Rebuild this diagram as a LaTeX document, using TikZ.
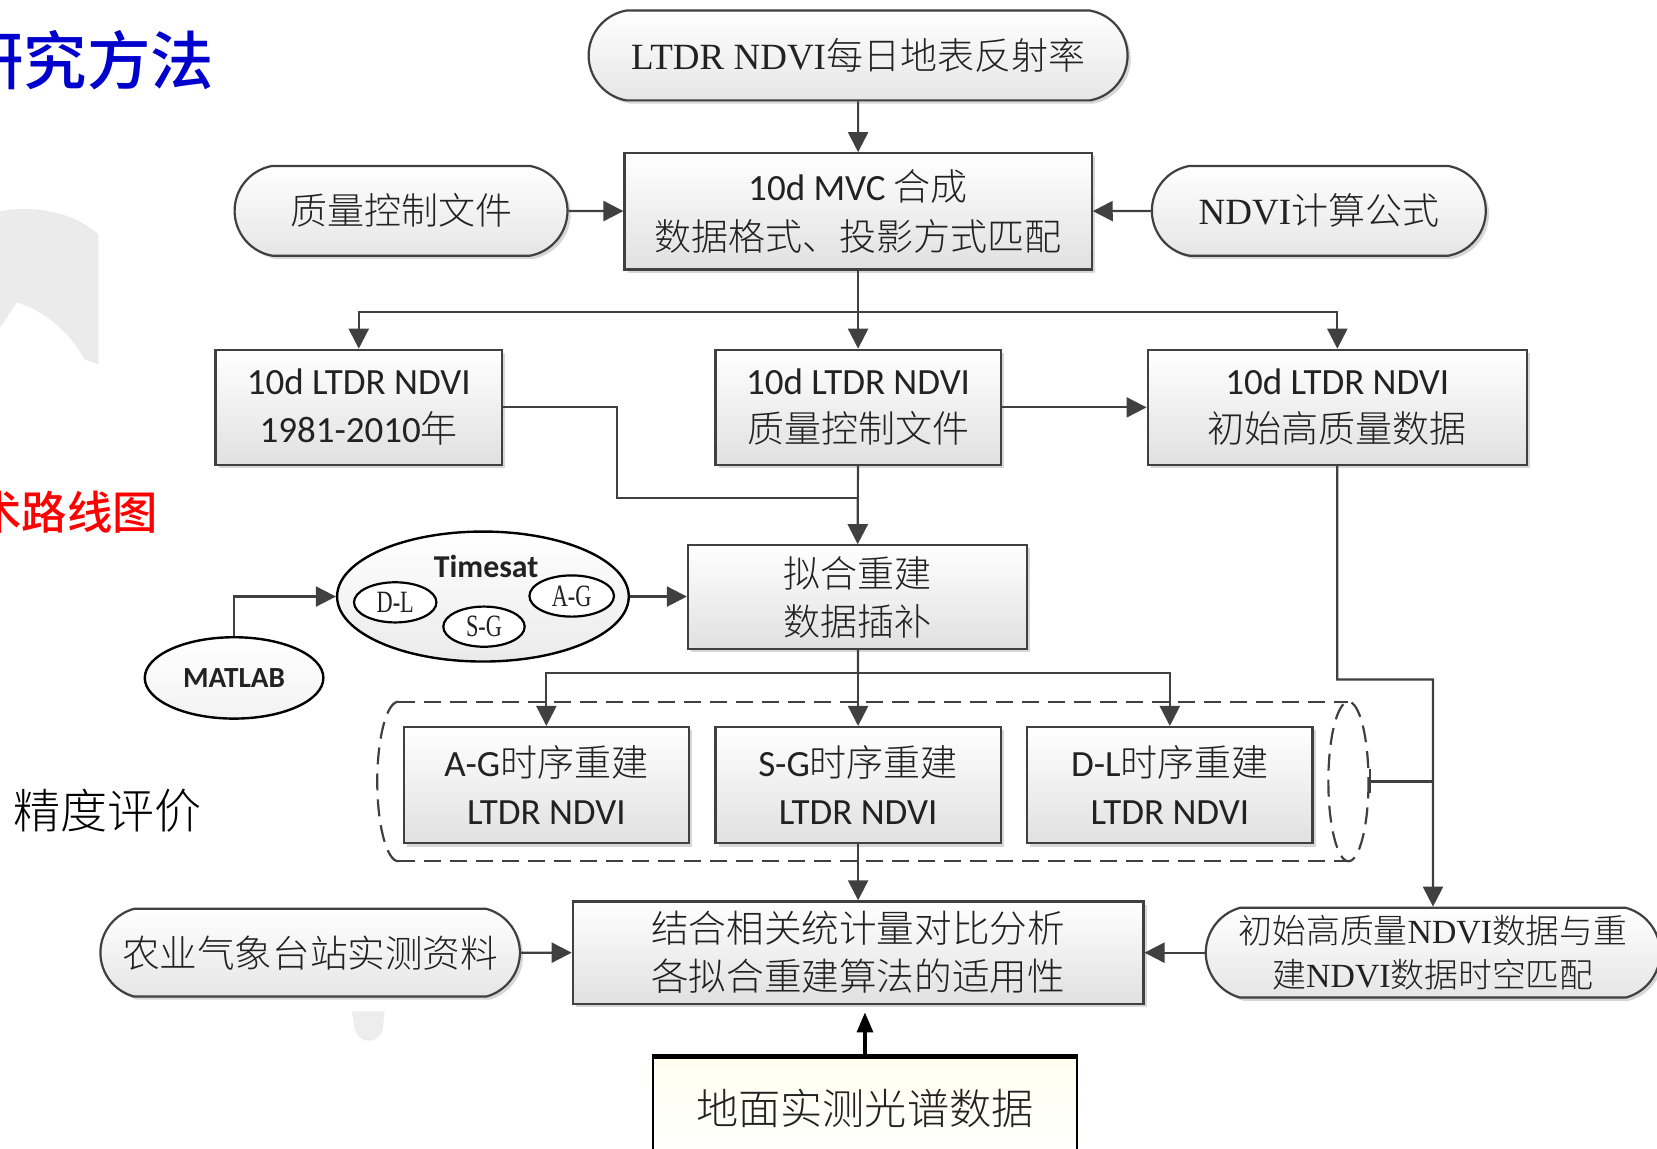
\documentclass[tikz,border=0pt]{standalone}
\usepackage{fontspec}
\usepackage{graphicx}
\setmainfont{Liberation Serif}
\newfontfamily\carl{Carlito}
\newfontfamily\cjk{Noto Sans CJK SC Light}
\newfontfamily\cjkb{Noto Sans CJK SC Medium}
\newfontfamily\tms{Liberation Serif}
\usetikzlibrary{arrows.meta,shapes.misc,shapes.geometric,shadows,calc}
\definecolor{bdr}{HTML}{404040}
\definecolor{txt}{HTML}{222222}
\definecolor{ttlblue}{HTML}{0000CC}
\newcommand\fz[2]{\fontsize{#1pt}{#2pt}\selectfont}
\tikzset{
 shd/.style={drop shadow={shadow xshift=1.6pt, shadow yshift=-1.6pt, opacity=0.22, fill=black!70}},
 box/.style={rectangle, draw=bdr, line width=1.1pt, top color=white, bottom color=black!12, shd, inner sep=0pt, align=center, text=txt, font=\fz{18.5}{24}},
 term/.style={rounded rectangle, rounded rectangle arc length=160, draw=bdr, line width=1.1pt, top color=white, bottom color=black!10, shd, inner sep=0pt, align=center, text=txt, font=\fz{18.5}{24}},
 dim/.style 2 args={minimum width=#1*0.5284pt, minimum height=#2*0.5284pt},
 ln/.style={draw=bdr, line width=1.1pt},
 arr/.style={ln, -{Triangle[length=10pt,width=10pt]}},
 ell/.style={ellipse, draw=black, line width=1.2pt, inner sep=0pt, text=txt},
 dsh/.style={draw=bdr, line width=1.1pt, dash pattern=on 8.5pt off 4.5pt},
 smallell/.style={ell, line width=1.1pt, fill=white, font=\tms\fz{15.5}{17}},
}
\begin{document}
\begin{tikzpicture}[x=0.5284pt,y=-0.5284pt]
\clip (0,0) rectangle (1568,1087);
\fill[white] (0,0) rectangle (1568,1087);
% faint background marks
\fill[black!8] (0,200) .. controls (30,194) and (70,200) .. (93,222) -- (93,345) -- (80,340) .. controls (68,318) and (50,302) .. (31,292) -- (16,286) -- (0,310) -- cycle;
\fill[black!7] (333,957) -- (364,957) -- (362,975) .. controls (358,988) and (340,988) .. (336,975) -- cycle;
% side titles
\node[anchor=west, inner sep=0pt, text=ttlblue, font=\cjkb\fz{31.7}{34}] (ttl) at (-38,57) {研究方法};
\node[anchor=east, inner sep=0pt, text=red, font=\cjkb\fz{22.7}{25}] (ttl2) at (150,485) {技术路线图};
\node[anchor=west, inner sep=0pt, text=black, font=\cjk\fz{23.5}{25}] (acc) at (12,767) {精度评价};
% dashed cylinder group
\draw[dsh] (377,664) -- (1276,664);
\draw[dsh] (377,815) -- (1276,815);
\draw[dsh] (377,664) .. controls (366,664) and (357,698) .. (357,739.5) .. controls (357,781) and (366,815) .. (377,815);
\draw[dsh] (1276,739.5) ellipse [x radius=19, y radius=75.5];
\coordinate (cylr) at (1295,739.5);
% nodes
\node[term, dim={510}{85}] (top) at (812,52.5) {\tms LTDR NDVI\cjk 每日地表反射率};
\node[box, dim={442}{110}, font=\fz{18.5}{25}] (mvc) at (812,200) {\carl 10d MVC \cjk 合成\\\cjk 数据格式、投影方式匹配};
\node[term, dim={315}{85}] (qc) at (379.5,199.5) {\cjk 质量控制文件};
\node[term, dim={316}{85}] (nd) at (1248,199.5) {\tms NDVI\cjk 计算公式};
\node[box, dim={271}{109}] (b5) at (339.5,385.5) {\carl 10d LTDR NDVI\\\carl 1981-2010\cjk 年};
\node[box, dim={270}{109}] (b6) at (812,385.5) {\carl 10d LTDR NDVI\\\cjk 质量控制文件};
\node[box, dim={359}{109}] (b7) at (1265.5,385.5) {\carl 10d LTDR NDVI\\\cjk 初始高质量数据};
\node[box, dim={321}{98}] (b8) at (811.5,565) {\cjk 拟合重建\\\cjk 数据插补};
\node[ell, dim={276}{123}, top color=white, bottom color=black!8] (ts) at (457,564.5) {};
\node[inner sep=0pt, text=txt, font=\carl\bfseries\fz{15.9}{18}] (tsl) at (460,536) {Timesat};
\node[smallell, dim={78}{38}] (dl) at (374,570) {\scalebox{0.72}[1]{D-L}};
\node[smallell, dim={77}{38}] (sg) at (458,593) {\scalebox{0.72}[1]{S-G}};
\node[smallell, dim={80}{39}] (ag) at (541,564) {\scalebox{0.72}[1]{A-G}};
\node[ell, dim={169}{77}, top color=white, bottom color=black!5, font=\carl\bfseries\fz{14.6}{16}] (mat) at (221.5,641.5) {MATLAB};
\node[box, dim={270}{110}] (agb) at (517,743) {\carl A-G\cjk 时序重建\\\carl LTDR NDVI};
\node[box, dim={270}{110}] (sgb) at (812,743) {\carl S-G\cjk 时序重建\\\carl LTDR NDVI};
\node[box, dim={270}{110}] (dlb) at (1107,743) {\carl D-L\cjk 时序重建\\\carl LTDR NDVI};
\node[box, dim={540}{97}, font=\fz{18.8}{24}] (res) at (812,901.5) {\cjk 结合相关统计量对比分析\\\cjk 各拟合重建算法的适用性};
\node[term, rounded rectangle arc length=150, dim={397}{83}, font=\fz{18.8}{24}] (agri) at (293.5,901.5) {\cjk 农业气象台站实测资料};
\node[term, rounded rectangle arc length=150, dim={430}{85}, font=\fz{16.9}{22.2}] (mt) at (1356,901.5) {\cjk 初始高质量\tms NDVI\cjk 数据与重\\\cjk 建\tms NDVI\cjk 数据时空匹配};
\node[rectangle, draw=black, line width=1.3pt, top color=yellow!6, bottom color=white, inner sep=0pt, text=txt, font=\cjk\fz{21.1}{24}, dim={401}{96}] (gnd) at (818.5,1049) {地面实测光谱数据};
\draw[black, line width=2.4pt] (gnd.north west) -- (gnd.north east);
% connectors
\draw[arr] (top) -- (mvc);
\draw[arr] (qc) -- (mvc);
\draw[arr] (nd) -- (mvc);
\coordinate (j1) at (812,295);
\draw[ln] (mvc) -- (j1);
\draw[arr] (j1) -| (b5);
\draw[arr] (j1) -- (b6);
\draw[arr] (j1) -| (b7);
\draw[arr] (b6) -- (b7);
\coordinate (k1) at (584,471);
\coordinate (j2) at (812,471);
\draw[ln] (b5.east) -| (k1) -- (j2);
\draw[arr] (b6) -- (b8);
\draw[arr] (ts.east) -- (ts.east -| b8.west);
\draw[arr] (mat.north) |- (ts.west);
\coordinate (j3) at (812,637);
\draw[ln] (b8) -- (j3);
\draw[arr] (j3) -| (agb);
\draw[arr] (j3) -- (sgb);
\draw[arr] (j3) -| (dlb);
\draw[arr] (sgb) -- (res);
\draw[arr] (agri) -- (res);
\draw[arr] (mt) -- (res);
\coordinate (j4) at (1356,643);
\draw[arr] (b7) |- (j4) -- (mt);
\draw[ln, {Bar[width=12pt]}-] (cylr) -- (cylr -| j4);
\draw[black, line width=1.6pt, -{Triangle[length=10pt,width=8pt]}, shorten >=3.7pt] (gnd.north) -- (gnd.north |- res.south);
\end{tikzpicture}
\end{document}
